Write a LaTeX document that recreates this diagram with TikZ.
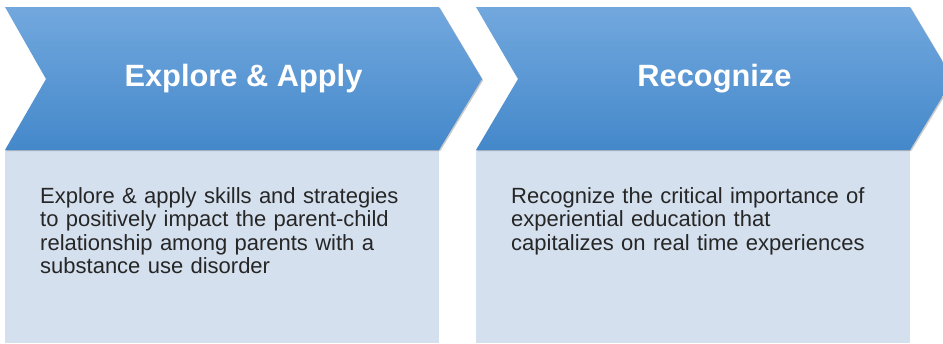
\documentclass[tikz,border=0pt]{standalone}
\usepackage{fontspec}
\setmainfont{Liberation Sans}
\usetikzlibrary{shadows}
\definecolor{chevtop}{RGB}{114,168,222}
\definecolor{chevbot}{RGB}{68,136,202}
\definecolor{boxfill}{RGB}{212,224,238}
\definecolor{bodytext}{RGB}{38,38,38}
\tikzset{
  chevron/.style={top color=chevtop, bottom color=chevbot, draw=none,
    drop shadow={opacity=0.35, shadow xshift=1.2pt, shadow yshift=-1.2pt, fill=black!60}},
  infobox/.style={fill=boxfill, draw=none},
  titletext/.style={text=white, font=\fontsize{30.8}{34}\selectfont\bfseries, inner sep=0pt, anchor=base},
  bodytxt/.style={text=bodytext, font=\fontsize{22}{23.6}\selectfont, inner sep=0pt, align=left, text width=380pt, anchor=north west}
}
\begin{document}
\begin{tikzpicture}[x=1pt,y=-1pt]
\useasboundingbox (0,0) rectangle (943,343);
\clip (0,0) rectangle (943,343);
% boxes
\fill[infobox] (5,150) rectangle (439,343);
\fill[infobox] (476,150) rectangle (910,343);
% chevrons
\path[chevron] (5,7) -- (439,7) -- (482,79) -- (439,150) -- (5,150) -- (46,79) -- cycle;
\path[chevron] (476,7) -- (910,7) -- (953,79) -- (910,150) -- (476,150) -- (518,79) -- cycle;
% titles
\node[titletext] (t1) at (243.5,86.5) {Explore \& Apply};
\node[titletext] (t2) at (714.5,86.5) {Recognize};
% body text
\node[bodytxt] (b1) at (40,187) {Explore \& apply skills and strategies\\to positively impact the parent-child\\relationship among parents with a\\substance use disorder};
\node[bodytxt] (b2) at (511,187) {Recognize the critical importance of\\experiential education that\\capitalizes on real time experiences};
\end{tikzpicture}
\end{document}
